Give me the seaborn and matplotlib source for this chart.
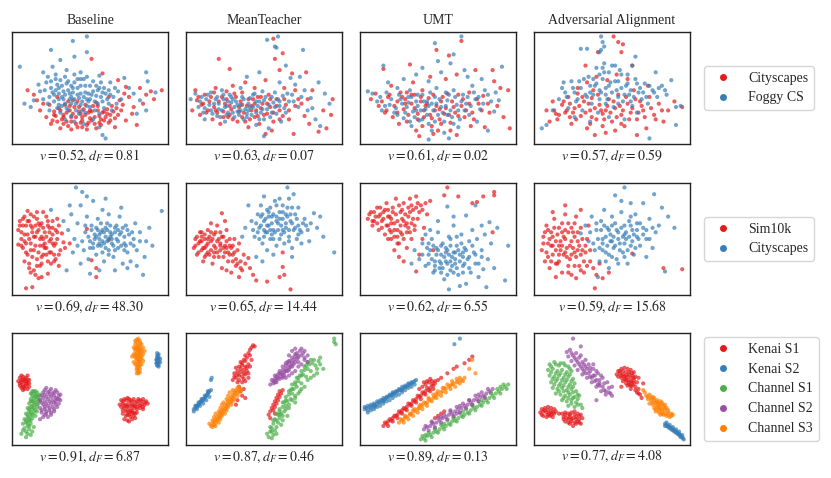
import numpy as np
import pandas as pd
import seaborn as sns
import matplotlib.pyplot as plt

# panel coordinates on a 0-100 box (x right, y up)

# ---- row 1 : Cityscapes -> Foggy CS
b1_red = [96,48, 89,47, 82,50, 73,51, 75,42, 69,39, 78,33, 84,36, 73,21, 80,17, 66,15, 63,26,
          10,48, 16,39, 18,30, 22,24, 25,18, 31,14, 38,13, 45,15, 51,21, 51,76, 58,63, 68,57,
          28,25, 32,22, 35,28, 38,20, 41,24, 44,19, 47,26, 50,23, 53,18, 56,25, 59,21, 62,19,
          30,32, 34,35, 37,30, 40,33, 43,29, 46,31, 49,28, 52,34, 55,30, 58,28, 61,31, 64,34,
          24,35, 27,29, 33,18, 36,16, 42,15, 48,13, 54,14, 57,17, 60,24, 26,21, 20,36, 66,23,
          70,30, 72,45, 39,39, 45,24, 33,26, 86,44, 91,40, 77,27, 29,42, 14,44, 62,42, 67,32,
          27,26, 29,20, 31,30, 33,24, 35,20, 37,34, 39,27, 41,18, 43,33, 45,21, 47,35, 49,19,
          51,29, 53,24, 55,34, 57,22, 59,29, 61,27, 63,21, 65,29, 68,26, 71,35, 38,24, 44,27,
          50,30, 56,19, 42,38, 36,38, 48,17, 54,37]
b1_blue = [48,96, 39,92, 25,84, 48,82, 40,78, 31,75, 5,69, 20,64, 26,69, 35,66, 44,64, 56,61,
           86,64, 87,56, 63,55, 72,59, 78,45, 82,39, 86,30, 80,27, 67,36, 58,8, 60,5, 56,15,
           8,36, 12,33, 14,39, 22,55, 25,50, 28,58, 30,45, 32,52, 34,60, 36,48, 38,42, 40,55,
           42,50, 44,45, 46,58, 48,40, 50,52, 52,47, 54,43, 56,50, 58,38, 60,45, 62,48, 24,42,
           27,38, 30,35, 33,40, 35,32, 38,36, 41,30, 44,35, 47,28, 50,33, 53,30, 56,27, 59,32,
           62,36, 65,42, 68,47, 70,40, 36,56, 40,62, 28,62, 45,38, 49,45, 33,47, 26,46, 52,56,
           57,55, 43,27, 38,25, 31,28, 20,40, 18,47, 64,30, 40,20, 46,18, 52,22, 34,22, 29,53,
           37,45, 43,41, 55,36, 48,60, 31,57, 23,60, 39,50, 47,52, 75,50, 17,53, 92,46,
           21,48, 23,36, 25,56, 27,44, 29,32, 30,50, 32,42, 34,36, 35,54, 37,40, 39,46, 41,36,
           42,58, 44,52, 45,30, 47,46, 49,38, 51,44, 53,38, 55,48, 57,42, 59,50, 61,40, 63,44,
           66,50, 24,30, 28,48, 36,30, 42,44, 50,40, 58,46, 46,42, 34,44, 40,40, 32,34, 48,34,
           54,52, 38,52, 30,40, 44,58]
m1_red = [21,76, 28,67, 51,57, 68,63, 77,64, 94,40, 93,26, 85,11, 79,18, 69,9, 51,9, 62,81,
          57,76, 56,94, 6,48, 7,39, 9,26, 4,30, 60,66, 72,40, 88,30, 76,25, 66,22, 44,50,
          12,44, 15,38, 18,33, 20,28, 23,42, 25,36, 27,24, 29,31, 31,45, 33,20, 35,38, 37,28,
          39,34, 41,22, 43,40, 45,30, 47,18, 49,36, 52,27, 54,33, 56,20, 58,40, 60,30, 62,25,
          14,30, 17,22, 22,18, 26,47, 30,52, 36,46, 40,15, 46,25, 53,44, 64,35, 10,35, 24,29,
          34,33, 42,30, 48,42, 55,12, 70,48, 81,48, 90,14, 38,55, 63,50, 19,50,
          8,42, 11,36, 13,28, 16,42, 19,30, 21,38, 24,24, 26,40, 28,34, 30,22, 32,42, 34,29,
          36,35, 38,20, 40,40, 42,34, 44,24, 46,42, 48,32, 50,26, 52,36, 54,40, 56,28, 58,34,
          60,22, 63,40, 66,30, 70,34, 74,36, 78,40, 18,46, 28,26, 44,36, 36,24]
m1_blue = [52,93, 59,96, 57,87, 64,70, 75,84, 39,60, 47,64, 70,53, 85,55, 89,45, 81,32, 86,16,
           50,7, 6,45, 3,40, 8,33, 11,28, 13,40, 16,46, 18,36, 21,31, 22,24, 24,40, 26,34,
           28,44, 30,28, 32,38, 34,26, 36,42, 38,31, 40,36, 42,26, 44,45, 46,34, 48,28, 50,39,
           52,31, 54,24, 56,37, 58,27, 60,34, 62,43, 64,28, 66,38, 12,22, 16,30, 20,42, 25,20,
           29,37, 33,29, 37,22, 41,41, 45,17, 49,47, 53,14, 57,46, 61,20, 68,44, 72,33, 76,48,
           80,41, 92,36, 23,48, 35,50, 43,33, 27,28, 47,38, 31,33, 39,27, 55,42, 60,55, 67,59,
           73,60, 78,30, 83,22, 58,86,
           9,38, 12,32, 14,44, 17,27, 19,40, 21,36, 23,30, 24,44, 26,26, 27,38, 29,42, 31,24,
           33,35, 35,30, 37,40, 39,24, 41,33, 43,44, 45,38, 47,22, 49,31, 51,42, 53,35, 55,28,
           57,33, 59,40, 63,32, 65,45, 69,38, 74,42, 15,35, 25,33, 35,35, 45,28, 30,40, 40,30,
           20,25, 50,22, 60,38, 10,42]
u1_red = [65,92, 49,84, 57,79, 32,71, 15,67, 85,66, 74,66, 95,48, 96,14, 7,40, 80,15, 62,8,
          38,7, 12,34, 16,28, 18,42, 21,24, 24,38, 26,46, 28,31, 30,20, 33,36, 35,44, 37,27,
          40,16, 42,34, 44,41, 46,23, 48,30, 50,12, 52,38, 54,27, 56,45, 58,19, 60,33, 63,25,
          66,40, 68,30, 70,46, 73,22, 76,36, 79,43, 83,28, 88,34, 90,50, 20,52, 34,55, 45,60,
          55,58, 62,62, 25,18, 36,12, 47,9, 58,12, 71,16, 10,45, 29,40, 41,24, 51,31, 39,38,
          86,56, 92,24,
          14,38, 17,30, 19,44, 22,34, 24,28, 27,42, 29,36, 31,26, 33,44, 35,32, 37,22, 39,42,
          41,30, 43,36, 45,26, 47,44, 49,34, 51,22, 53,42, 55,32, 57,26, 59,38, 61,28, 63,44,
          65,34, 67,24, 70,36, 72,28, 75,40, 78,30, 82,36, 46,16, 52,18, 30,46, 40,48]
u1_blue = [65,96, 48,90, 60,80, 15,70, 91,69, 67,66, 89,39, 5,47, 86,29, 57,5, 44,4, 8,45,
           11,38, 14,30, 17,46, 19,35, 22,28, 24,50, 26,40, 28,23, 30,33, 32,48, 34,29, 36,38,
           38,21, 40,44, 42,31, 44,18, 46,36, 48,42, 50,26, 52,33, 54,20, 56,39, 58,30, 60,48,
           62,35, 64,22, 66,44, 68,36, 70,26, 72,52, 74,40, 77,31, 80,48, 84,38, 87,46, 28,58,
           36,62, 44,56, 52,64, 58,72, 50,74, 40,68, 18,55, 33,16, 46,12, 54,10, 63,15, 75,20,
           82,12, 31,42, 43,38, 49,50, 37,34, 55,46, 69,60, 78,58,
           13,42, 16,34, 20,40, 23,32, 25,44, 27,36, 29,28, 31,37, 33,42, 35,24, 37,44, 39,30,
           41,38, 43,26, 45,46, 47,30, 49,36, 51,40, 53,28, 55,34, 57,44, 59,24, 61,42, 63,30,
           65,38, 67,30, 69,42, 71,34, 73,46, 76,42, 79,36, 82,44, 40,22, 48,20, 56,26, 32,20,
           24,26, 60,18, 36,30, 44,34]
a1_red = [51,96, 54,91, 57,89, 56,82, 41,82, 33,70, 14,27, 95,33, 63,70, 10,20, 8,30, 12,38,
          15,22, 18,35, 20,28, 22,42, 24,18, 26,32, 28,45, 30,25, 32,38, 34,14, 36,30, 38,48,
          40,22, 42,35, 44,27, 46,10, 48,40, 50,20, 52,32, 54,44, 56,26, 58,16, 60,36, 62,28,
          64,48, 66,22, 68,38, 70,30, 72,14, 74,42, 77,26, 80,36, 83,20, 86,30, 90,38, 34,55,
          40,60, 47,57, 53,62, 60,58, 28,50, 44,16, 39,8, 52,12, 66,8, 73,52, 23,24, 37,41,
          13,30, 16,26, 19,38, 21,30, 23,36, 25,28, 27,22, 29,34, 31,42, 33,28, 35,36, 37,24,
          39,32, 41,44, 43,30, 45,22, 47,34, 49,28, 51,38, 53,24, 55,34, 57,30, 59,42, 61,22,
          63,32, 65,40, 67,28, 69,34, 71,24, 75,32, 78,22, 82,30, 46,30, 36,18, 56,18]
a1_blue = [43,96, 44,91, 45,87, 43,84, 42,82, 30,85, 34,85, 65,78, 63,70, 78,64, 88,57, 91,33,
           91,17, 74,5, 5,14, 8,17, 19,55, 16,40, 20,46, 22,32, 25,50, 27,38, 29,56, 31,30,
           33,44, 35,60, 37,36, 39,52, 41,28, 43,46, 45,64, 47,40, 49,55, 51,33, 53,48, 55,66,
           57,38, 59,52, 61,44, 63,34, 65,58, 67,46, 69,40, 71,54, 73,36, 76,48, 79,42, 82,52,
           85,44, 94,34, 45,72, 50,70, 40,68, 36,20, 48,24, 58,22, 66,28, 12,30, 26,24, 54,56,
           38,58, 46,50, 42,40, 60,62,
           18,50, 21,42, 24,56, 26,46, 28,40, 30,50, 32,58, 34,42, 36,52, 38,44, 40,54, 42,48,
           44,58, 46,44, 48,52, 50,46, 52,56, 54,42, 56,50, 58,44, 60,54, 62,48, 64,42, 66,54,
           68,50, 70,46, 72,42, 74,52, 77,46, 80,50, 84,48, 44,68, 48,64, 52,70, 42,62, 56,62,
           36,46, 46,36, 54,36, 62,38]

# ---- row 2 : Sim10k -> Cityscapes
b2_red = [9,6, 13,7, 17,15, 19,16, 23,19, 33,47, 37,46, 48,59, 54,24, 54,16, 62,49, 51,31,
          4,58, 5,66, 6,50, 7,42, 8,70, 9,62, 10,36, 10,54, 11,28, 12,46, 12,72, 13,60,
          14,40, 14,22, 15,52, 16,68, 16,32, 17,58, 18,44, 18,26, 19,64, 20,50, 20,36, 21,56,
          22,42, 22,70, 23,30, 24,48, 24,60, 25,38, 26,54, 26,66, 27,44, 28,58, 28,32, 29,50,
          30,62, 31,40, 6,56, 9,46, 11,66, 13,34, 15,62, 17,38, 19,52, 21,46, 23,62, 25,28,
          8,30, 7,62, 29,68, 30,26, 27,36, 12,20, 16,74, 20,74, 10,75, 4,45, 32,55, 34,42,
          5,62, 6,44, 7,68, 8,54, 9,38, 10,66, 11,50, 12,40, 13,56, 14,70, 15,44, 16,26,
          17,64, 18,50, 19,34, 20,60, 21,42, 22,52, 23,66, 24,38, 25,50, 26,60, 27,30, 28,46,
          29,56, 30,36, 12,62, 16,56, 20,44, 24,56, 8,48, 14,52, 18,62, 22,36, 26,46, 11,24,
          15,18, 19,28]
b2_blue = [41,96, 45,92, 96,75, 25,76, 84,18, 90,44, 35,22, 50,19, 33,66, 36,58, 38,72, 40,50,
           42,64, 44,80, 46,40, 47,56, 48,70, 49,32, 50,48, 51,62, 52,42, 53,54, 54,36, 55,68,
           56,50, 57,44, 58,58, 59,30, 60,52, 61,64, 62,40, 63,56, 64,46, 65,34, 66,60, 67,50,
           68,42, 69,70, 70,56, 71,28, 72,46, 73,62, 74,38, 75,54, 76,30, 78,50, 79,64, 80,40,
           82,56, 85,34, 88,60, 44,28, 39,38, 37,80, 52,84, 58,76, 62,72, 70,78, 74,24, 80,26,
           56,22, 66,22, 60,86, 48,88, 53,50, 57,56, 59,46, 55,58, 61,48, 63,52, 42,44, 86,48,
           45,48, 47,62, 49,52, 51,58, 52,46, 54,60, 55,44, 56,54, 57,64, 58,48, 59,56, 60,42,
           61,58, 62,50, 63,62, 64,54, 65,44, 66,56, 67,62, 68,48, 69,54, 70,44, 71,60, 72,52,
           73,44, 74,58, 76,46, 77,56, 58,38, 62,36, 66,40, 54,52, 60,60, 64,50, 68,58, 56,46,
           50,42, 72,40, 78,44, 82,48]
m2_red = [23,73, 40,33, 43,18, 45,13, 52,12, 60,16, 63,18, 62,25, 67,5, 62,38,
          5,42, 6,50, 7,36, 8,46, 9,56, 10,40, 11,30, 12,50, 13,44, 14,58, 15,36, 16,48,
          17,28, 18,54, 19,42, 20,62, 21,34, 22,46, 23,24, 24,52, 25,38, 26,58, 27,30, 28,44,
          29,20, 30,36, 31,50, 32,26, 33,40, 34,16, 35,30, 36,22, 38,28, 20,48, 14,38, 24,42,
          18,34, 22,56, 28,50, 12,34, 30,44, 26,22, 10,48, 16,64, 25,66, 37,36, 34,46, 41,24,
          6,44, 7,52, 8,38, 9,48, 10,56, 11,42, 12,54, 13,36, 14,46, 15,52, 16,40, 17,50,
          18,44, 19,56, 20,38, 21,50, 22,40, 23,52, 24,34, 25,44, 26,48, 27,38, 28,36, 29,42,
          30,30, 31,38, 32,32, 33,28, 35,24, 10,52, 14,50, 18,38, 22,44, 26,42, 16,56, 12,42]
m2_blue = [65,96, 69,90, 95,38, 40,80, 79,48, 82,73, 49,30, 45,34, 38,60, 42,66, 44,52, 46,72,
           47,60, 48,80, 49,46, 50,66, 51,56, 52,76, 53,62, 54,50, 55,70, 56,58, 57,84, 58,44,
           59,64, 60,74, 61,54, 62,68, 63,46, 64,60, 65,78, 66,52, 67,66, 68,42, 69,58, 70,72,
           71,50, 72,62, 74,56, 76,68, 78,58, 80,64, 84,60, 86,70, 52,40, 56,36, 60,86, 66,86,
           72,78, 36,52, 88,52, 50,88, 55,54, 58,70, 62,58, 64,72, 52,56, 48,70, 74,46, 68,34,
           43,58, 45,64, 46,56, 48,62, 49,72, 50,58, 51,68, 52,62, 53,70, 54,58, 55,64, 56,72,
           57,56, 58,66, 59,58, 60,68, 61,62, 62,74, 63,56, 64,64, 65,70, 66,58, 67,72, 68,64,
           70,60, 71,68, 73,58, 75,64, 77,62, 54,78, 58,80, 62,80, 50,52, 56,50, 60,50, 66,48,
           72,54, 47,50, 53,74, 68,78]
u2_red = [56,96, 54,89, 63,88, 79,88, 86,92, 86,89, 72,82, 75,83, 85,56, 36,21, 47,40,
          5,68, 7,74, 8,62, 10,70, 11,78, 12,58, 14,66, 15,74, 16,54, 17,82, 18,62, 19,70,
          20,50, 21,78, 22,58, 23,86, 24,66, 25,46, 26,74, 27,54, 28,82, 29,62, 30,42, 31,70,
          32,86, 33,50, 34,76, 35,58, 36,88, 37,68, 38,36, 39,80, 41,60, 43,72, 45,84, 22,40,
          25,34, 28,30, 30,56, 20,64, 13,72, 9,66, 33,64, 40,50, 27,68, 18,76, 24,52, 31,78,
          6,72, 8,66, 9,74, 11,64, 12,70, 13,78, 14,60, 15,68, 16,76, 17,62, 18,70, 19,58,
          20,68, 21,74, 22,64, 23,72, 24,58, 25,80, 26,62, 27,76, 28,66, 29,72, 30,64, 31,60,
          32,74, 33,80, 34,68, 35,62, 36,78, 37,82, 38,74, 40,76, 42,82, 24,46, 22,52, 28,50,
          26,56, 32,56, 20,56, 18,50]
u2_blue = [95,44, 93,13, 57,5, 81,7, 79,23, 83,65, 78,62, 68,71, 56,79, 74,80,
           35,40, 38,32, 40,46, 42,26, 44,36, 46,50, 47,20, 48,30, 49,42, 50,56, 51,24, 52,36,
           53,46, 54,14, 55,30, 56,40, 57,52, 58,22, 59,34, 60,62, 61,28, 62,44, 63,18, 64,36,
           65,54, 66,26, 67,42, 68,10, 69,32, 70,48, 71,20, 72,58, 73,38, 74,28, 75,50, 76,16,
           78,40, 80,54, 82,32, 84,46, 86,24, 88,60, 45,58, 50,66, 42,54, 33,28, 60,70, 64,8,
           55,38, 58,30, 61,38, 52,28, 66,34, 70,24,
           40,36, 43,42, 44,28, 45,40, 46,32, 47,44, 48,26, 49,36, 50,40, 51,30, 52,44, 53,24,
           54,34, 55,42, 56,28, 57,36, 58,44, 59,26, 60,38, 61,32, 62,24, 63,40, 64,30, 65,46,
           66,38, 67,28, 68,40, 70,34, 72,44, 74,36, 76,28, 78,34, 52,20, 56,18, 60,20, 48,22,
           66,20, 44,46, 58,50, 62,52]
a2_red = [83,24, 95,23, 39,6, 27,15, 44,15, 63,37, 5,40, 6,52, 7,30, 8,62, 9,46, 10,24,
          11,56, 12,36, 13,68, 14,48, 15,28, 16,60, 17,40, 18,20, 19,52, 20,72, 21,34, 22,64,
          23,44, 24,18, 25,56, 26,38, 27,70, 28,48, 29,26, 30,60, 31,40, 32,20, 34,50, 36,30,
          38,24, 40,18, 35,62, 30,76, 20,80, 12,74, 9,34, 14,16, 22,26, 26,52, 18,44, 16,36,
          24,36, 33,44, 42,28, 48,20, 11,44, 20,58,
          6,46, 7,56, 8,38, 9,58, 10,50, 11,30, 12,44, 13,60, 14,40, 15,54, 16,30, 17,48,
          18,64, 19,36, 20,50, 21,42, 22,56, 23,32, 24,48, 25,42, 26,64, 27,34, 28,56, 29,44,
          30,36, 31,50, 32,30, 33,38, 34,26, 36,40, 12,52, 16,44, 20,38, 24,60, 28,40, 18,56,
          14,28, 22,20, 30,22, 26,26]
a2_blue = [58,96, 52,89, 77,90, 70,82, 82,78, 84,21, 41,16, 30,55, 33,62, 35,48, 37,70, 39,40,
           40,58, 42,30, 43,66, 44,50, 45,76, 46,38, 47,60, 48,24, 49,54, 50,70, 51,42, 52,64,
           53,32, 54,56, 55,46, 56,74, 57,38, 58,62, 59,50, 60,28, 61,66, 62,44, 63,58, 64,36,
           65,72, 66,52, 68,44, 70,60, 72,50, 74,68, 76,42, 78,56, 80,62, 62,82, 56,84, 48,36,
           44,40, 50,48, 58,54, 66,64, 72,34, 86,70, 90,60,
           36,56, 38,46, 40,64, 41,50, 42,42, 43,58, 44,46, 45,62, 46,52, 47,44, 48,58, 49,48,
           50,62, 51,52, 52,44, 53,58, 54,50, 55,40, 56,60, 57,52, 58,46, 59,56, 60,40, 61,52,
           62,62, 63,48, 64,54, 65,42, 66,58, 67,50, 68,64, 70,54, 72,58, 74,50, 76,60, 50,34,
           54,28, 46,30, 58,34, 62,70]

# ---- row 3 : Kenai / Channel
b3_red = [5,60, 7,61, 9,60, 11,58, 4,57, 6,56, 8,57, 10,55, 5,53, 7,52, 9,53, 11,52, 8,50, 6,62,
          10,62, 7,49, 6,58, 8,59, 10,58, 5,55, 7,54, 9,55, 11,55, 6,51, 8,52, 10,50, 7,58, 9,57,
          70,40, 72,41, 74,42, 76,40, 78,41, 80,39, 82,40, 84,41, 86,39, 71,37, 73,36, 75,38, 77,36,
          79,35, 81,37, 83,36, 85,36, 70,34, 72,33, 74,34, 76,32, 78,33, 80,32, 82,33, 84,34, 73,30,
          75,29, 77,30, 79,28, 74,27, 76,25, 78,26, 72,23, 75,21, 79,24, 71,28, 69,36, 87,37,
          71,39, 73,40, 75,41, 77,39, 79,38, 81,41, 83,39, 85,38, 72,35, 74,35, 76,35, 78,35,
          80,34, 82,35, 84,32, 71,31, 74,31, 76,30, 78,29, 80,29, 75,27, 77,28, 73,26, 77,23, 74,22]
b3_blue = [93,82, 94,81, 93,79, 94,78, 93,77, 94,76, 93,75, 94,74, 93,73, 94,72, 93,71, 94,70,
           92.5,76, 95,77, 95,74, 92.5,73, 93.5,80, 93.5,77, 93.5,74, 93.5,71]
b3_green = [14,48, 16,47, 12,46, 15,45, 17,44, 13,44, 14,42, 16,41, 12,41, 18,40, 13,39, 15,38, 17,37,
            11,37, 14,36, 16,34, 12,34, 10,33, 13,32, 15,31, 11,30, 14,29, 9,28, 12,27, 10,25, 13,24,
            8,23, 11,22, 9,20, 12,19, 10,17, 8,15, 11,14, 6,10, 9,7, 13,12, 14,16, 16,30, 18,45, 17,39,
            7,19, 15,26, 13,46, 15,43, 12,39, 17,42, 14,39, 13,35, 16,36, 11,32, 14,33, 12,29, 10,27,
            13,27, 11,24, 9,22, 12,22, 10,20, 11,17, 9,12, 7,13, 12,9, 10,10, 16,44, 15,48, 13,48]
b3_purple = [22,51, 25,50, 28,49, 20,47, 23,47, 26,46, 29,47, 31,45, 19,44, 22,43, 25,43, 28,42, 30,41,
             18,40, 21,39, 24,39, 27,38, 30,37, 20,36, 23,35, 26,34, 29,34, 18,33, 21,32, 24,31, 27,30,
             19,29, 22,28, 25,27, 20,25, 18,23, 31,40, 21,49, 24,48, 27,47, 30,44, 21,45, 24,45, 27,44,
             29,41, 20,42, 23,41, 26,40, 28,39, 19,38, 22,37, 25,37, 28,36, 21,34, 24,33, 27,32, 19,31,
             22,30, 25,29, 21,27, 23,25]
b3_orange = [81,95, 80,92, 82,93, 79,90, 81,89, 83,90, 78,87, 80,86, 82,86, 84,87, 79,84, 81,83, 83,83,
             78,81, 80,80, 82,80, 84,81, 79,78, 81,77, 83,77, 80,75, 82,74, 78,74, 84,75, 79,72, 81,71,
             83,72, 80,69, 82,68, 81,66, 80,64, 82,65, 77,79, 85,84, 79,93, 80,94, 82,91, 80,88, 82,88,
             79,86, 81,85, 83,85, 80,82, 82,82, 79,80, 81,79, 83,79, 80,77, 82,76, 81,74, 80,72, 82,71,
             81,69, 80,67, 81,64]
m3_red = [30,58, 32,60, 34,62, 36,61, 38,63, 31,64, 33,66, 35,65, 37,67, 39,66, 32,69, 34,70, 36,71,
          38,70, 40,72, 35,74, 37,76, 39,78, 38,80, 40,82, 41,85, 42,87, 43,89, 44,88, 36,56, 38,57,
          40,60, 34,52, 35,48, 37,50, 36,44, 33,40, 38,42, 32,36, 42,76, 41,80, 31,61, 33,63, 35,68,
          37,64, 39,69, 41,70, 36,73, 38,75, 34,58, 40,64, 33,56, 37,59,
          54,30, 55,33, 56,36, 57,39, 58,42, 59,45, 60,48, 56,31, 57,34, 58,37, 59,40, 60,43, 61,46,
          62,49, 53,27, 54,24, 57,28]
m3_blue = [5,32, 6,33, 6.5,35, 7,34, 8,36, 8.5,37, 9,38, 10,39, 10.5,41, 11,40, 12,42, 12.5,43, 13,44,
           14,46, 14.5,47, 15,48, 7.5,35, 9.5,39, 11.5,41, 13.5,45, 16,58, 16.5,60, 5,30, 7,32, 9,35,
           11,37, 13,40, 15,43, 6,35, 8,38, 10,41, 12,44, 14,48, 16,49]
m3_green = [53,7, 55,6, 56,9, 54,12, 57,13, 55,15, 58,16, 56,19, 59,20, 57,23, 60,24, 62,22, 59,27,
            61,28, 63,30, 60,32, 62,34, 64,35, 66,33, 63,38, 65,39, 67,41, 64,43, 66,45, 68,46, 70,44,
            67,49, 69,50, 71,52, 68,54, 70,56, 72,57, 74,55, 71,60, 73,62, 75,63, 77,61, 74,66, 76,67,
            78,68, 80,66, 77,71, 79,72, 81,73, 83,71, 82,76, 85,75, 86,78, 88,68, 84,64, 95,95, 95,92,
            96,90, 58,10, 61,18, 65,26, 70,38, 73,48, 52,10, 54,16, 56,22, 58,28, 60,30, 62,38, 64,40,
            66,48, 68,50, 70,54, 72,60, 74,62, 76,70, 78,74, 80,76, 58,22, 60,27, 64,32, 66,36, 68,40,
            70,42, 72,46, 74,50, 76,52, 78,58, 80,60, 82,62, 84,68, 86,72, 62,26, 55,12]
m3_purple = [54,54, 56,55, 58,56, 55,58, 57,59, 59,60, 61,61, 57,62, 59,63, 61,64, 63,65, 60,66, 62,67,
             64,68, 66,69, 62,70, 64,71, 66,72, 68,73, 65,74, 67,75, 69,76, 71,77, 68,78, 70,79, 72,80,
             71,82, 73,84, 74,86, 63,62, 65,66, 67,70, 69,72, 72,74, 58,58, 75,82, 76,78, 56,57, 60,59,
             62,63, 64,66, 66,67, 68,70, 70,74, 60,64, 58,61, 66,75, 70,81, 72,78, 64,73, 62,60, 57,56,
             66,80, 68,84, 70,86, 74,80, 76,76, 78,74, 72,70, 74,72, 70,66, 68,64, 76,84, 78,80, 66,62,
             64,60]
m3_orange = [16,17, 17,19, 18,18, 18,21, 19,23, 20,22, 20,25, 21,27, 22,26, 22,29, 23,31, 24,30, 24,33,
             25,35, 26,34, 26,37, 27,39, 28,38, 28,41, 29,43, 30,42, 30,45, 31,47, 32,46, 32,49, 33,51,
             34,52, 19,20, 21,24, 23,28, 25,32, 27,36, 29,40, 31,44, 33,48, 35,50, 17,16, 15,19, 17,22,
             18,25, 19,28, 21,30, 22,33, 23,36, 24,38, 26,41, 27,44, 28,47, 30,49, 19,17, 21,20, 22,23,
             23,26, 25,28, 26,31, 27,34, 29,36, 30,39, 31,41, 33,44, 34,47, 35,49]
u3_red = [15,17, 17,19, 18,21, 20,22, 21,24, 23,26, 24,27, 26,29, 27,31, 29,32, 30,34, 32,36, 33,37,
          35,39, 36,41, 38,43, 39,44, 41,46, 42,48, 44,49, 45,51, 47,53, 48,55, 40,52, 42,54, 44,56,
          46,57, 41,56, 45,59, 50,58, 52,60, 56,64, 60,68, 67,73, 72,79, 70,76, 62,70, 50,26, 52,28,
          48,24, 54,30, 16,20, 19,23, 22,26, 25,30, 28,33, 31,37, 34,40, 37,44, 40,47, 43,51, 46,54,
          18,17, 21,21, 24,24, 27,28, 30,31, 33,35, 36,38, 39,41, 42,45, 45,48, 47,50, 38,50, 43,57,
          48,57]
u3_blue = [3,32, 4,33, 5,31, 6,34, 7,33, 8,35, 9,36, 10,35, 11,37, 12,38, 13,38, 14,40, 15,40, 16,41,
           17,42, 18,43, 19,44, 20,44, 21,46, 22,46, 23,47, 24,48, 25,49, 26,49, 27,50, 28,51, 29,52,
           30,52, 31,54, 32,54, 33,55, 34,56, 35,57, 36,58, 9,34, 15,39, 21,45, 27,49, 60.5,90, 64,95,
           3,34, 5,35, 7,36, 9,37, 11,39, 13,40, 15,42, 17,43, 19,45, 21,47, 23,48, 25,50, 27,52,
           29,53, 31,55, 33,56, 5,29, 7,31, 9,32, 11,34, 13,35, 15,37, 17,39, 19,40, 21,42, 23,44,
           25,45, 27,47, 29,49, 31,51, 33,52, 35,54]
u3_green = [39,5, 41,6, 43,8, 45,9, 47,11, 49,12, 51,14, 53,16, 55,17, 57,19, 59,21, 61,22, 63,24,
            65,26, 67,27, 69,29, 71,31, 73,33, 75,34, 77,36, 79,38, 81,40, 83,42, 85,44, 87,46, 89,48,
            91,50, 93,52, 95,54, 42,9, 48,14, 54,19, 60,24, 66,30, 72,35, 78,40, 84,46, 90,52,
            40,8, 44,11, 48,15, 52,18, 56,22, 60,25, 64,29, 68,32, 72,36, 76,39, 80,43, 84,47, 88,50,
            92,54, 42,4, 46,7, 50,11, 54,14, 58,18, 62,21, 66,25, 70,28, 74,31, 78,35, 82,38, 86,42,
            90,46, 94,50]
u3_purple = [41,14, 43,16, 45,17, 47,19, 49,20, 51,22, 53,24, 55,25, 57,27, 59,28, 61,30, 63,32, 65,33,
             67,35, 69,36, 71,38, 73,40, 75,41, 77,43, 79,44, 81,46, 83,48, 85,50, 46,20, 52,25, 58,30,
             64,35, 70,40, 76,45, 62,28, 42,17, 46,21, 50,24, 54,27, 58,31, 62,34, 66,37, 70,40, 74,44,
             78,47, 82,50, 44,13, 48,16, 52,20, 56,23, 60,26, 64,29, 68,33, 72,36, 76,39, 80,42]
u3_orange = [25,20, 27,22, 28,23, 30,25, 32,27, 33,28, 35,30, 37,32, 38,33, 40,35, 42,37, 43,38, 45,40,
             47,42, 48,43, 50,45, 52,47, 53,48, 55,50, 57,52, 58,53, 60,55, 62,56, 63,57, 65,58, 67,60,
             29,26, 34,31, 39,36, 44,41, 49,46, 54,51, 59,54, 64,60, 72,76, 74,64, 70,68, 26,23, 29,25,
             32,28, 35,32, 38,35, 41,38, 44,42, 47,45, 50,48, 53,51, 56,54, 59,57, 62,59, 28,20, 31,23,
             34,26, 37,29, 40,32, 43,35, 46,39, 49,42, 52,44, 55,47, 58,50, 61,52, 64,55, 66,57]
a3_red = [5,32, 7,33, 9,34, 11,33, 13,32, 4,29, 6,30, 8,29, 10,28, 12,29, 14,30, 6,26, 8,25, 10,26,
          12,25, 16,28, 7,31, 9,31, 11,30, 13,28, 5,27, 9,27, 11,27,
          18,28, 20,29, 22,28, 24,29, 26,30, 28,28, 30,27, 19,25, 21,24, 23,25, 25,24, 27,25, 29,23,
          31,24, 20,21, 22,20, 24,21, 26,20, 28,21, 30,19, 25,17, 20,27, 23,27, 26,27, 29,26, 19,23,
          22,23, 24,23, 27,23, 29,20, 23,19, 27,19,
          54,66, 56,68, 58,69, 60,68, 62,67, 64,65, 53,63, 55,64, 57,63, 59,62, 61,63, 63,62, 65,61,
          56,60, 58,59, 60,58, 62,57, 64,58, 66,56, 59,55, 61,54, 63,53, 65,52, 67,50, 66,47, 68,45,
          69,42, 62,50, 56,52, 70,55, 67,60, 55,66, 57,66, 59,65, 61,65, 63,64, 54,61, 56,62, 58,61,
          60,61, 62,60, 64,60, 57,57, 59,58, 61,56, 63,56, 60,53, 62,53, 64,55, 65,49, 67,46]
a3_blue = [84,19, 85,18, 86,17, 87,16, 88,15, 89,14, 90,13, 91,12, 92,11, 93,10, 93.5,9, 94,8, 95,7,
           95.5,6, 96,5, 85,17, 87,15, 89,13, 91,11, 93,9, 84,17, 86,16, 88,14, 90,12, 92,10, 94,7,
           85,20, 87,18, 89,16, 91,14, 93,12, 95,9]
a3_green = [10,72, 13,74, 16,71, 19,73, 22,70, 9,67, 12,68, 15,66, 18,67, 21,65, 24,66, 10,62, 13,61,
            16,62, 19,60, 22,61, 25,59, 11,56, 14,57, 17,55, 20,56, 23,54, 26,55, 12,51, 15,50, 18,51,
            21,49, 24,50, 27,48, 14,46, 17,45, 20,44, 23,45, 26,43, 29,44, 18,40, 21,39, 24,40, 27,38,
            22,35, 26,34, 30,36, 31,33, 28,41, 11,70, 14,72, 17,73, 20,71, 23,68, 11,65, 14,64, 17,64,
            20,63, 23,63, 12,59, 15,59, 18,58, 21,58, 24,57, 13,54, 16,53, 19,53, 22,52, 25,52, 16,48,
            19,48, 22,47, 25,47, 19,42, 22,42, 25,42, 28,45, 24,37, 28,36]
a3_purple = [21,83, 23,85, 22,79, 25,80, 27,82, 24,75, 27,76, 29,78, 26,71, 29,72, 31,74, 33,76, 28,67,
             31,68, 33,70, 35,72, 31,63, 33,64, 36,66, 38,68, 34,60, 36,61, 39,62, 41,64, 37,56, 39,57,
             42,58, 44,60, 40,52, 42,53, 45,55, 47,56, 43,48, 45,49, 48,51, 50,52, 46,45, 49,46, 50,44,
             38,72, 25,95, 30,88, 40,40, 24,82, 26,78, 28,74, 30,70, 32,66, 35,64, 37,60, 40,58, 42,55,
             44,52, 46,48, 48,47, 30,80, 32,72, 34,68, 36,69, 40,66, 38,62, 43,62, 41,54]
a3_orange = [72,44, 74,45, 76,43, 73,41, 75,40, 77,42, 79,40, 74,37, 76,36, 78,38, 80,37, 82,38, 77,33,
             79,34, 81,33, 83,35, 85,33, 78,30, 80,31, 82,30, 84,31, 86,29, 88,28, 81,27, 83,27, 85,26,
             87,25, 89,27, 71,47, 70,49, 73,43, 75,42, 77,40, 76,38, 78,36, 80,35, 82,36, 84,36, 78,32,
             80,33, 82,32, 84,33, 86,31, 80,29, 82,28, 84,28, 86,27, 88,26, 79,38, 81,39]

titles = ['Baseline', 'MeanTeacher', 'UMT', 'Adversarial Alignment']
row_domains = [['Cityscapes', 'Foggy CS'],
               ['Sim10k', 'Cityscapes'],
               ['Kenai S1', 'Kenai S2', 'Channel S1', 'Channel S2', 'Channel S3']]
row_data = [[[b1_red, b1_blue], [m1_red, m1_blue], [u1_red, u1_blue], [a1_red, a1_blue]],
            [[b2_red, b2_blue], [m2_red, m2_blue], [u2_red, u2_blue], [a2_red, a2_blue]],
            [[b3_red, b3_blue, b3_green, b3_purple, b3_orange],
             [m3_red, m3_blue, m3_green, m3_purple, m3_orange],
             [u3_red, u3_blue, u3_green, u3_purple, u3_orange],
             [a3_red, a3_blue, a3_green, a3_purple, a3_orange]]]
v_vals = [['0.52', '0.63', '0.61', '0.57'],
          ['0.69', '0.65', '0.62', '0.59'],
          ['0.91', '0.87', '0.89', '0.77']]
dF_vals = [['0.81', '0.07', '0.02', '0.59'],
           ['48.30', '14.44', '6.55', '15.68'],
           ['6.87', '0.46', '0.13', '4.08']]

sns.set_style('white')
plt.rcParams['font.family'] = ['Liberation Serif', 'DejaVu Serif']
plt.rcParams['mathtext.fontset'] = 'stix'
colors = sns.color_palette('Set1', 5)

W, H = 831, 478
fig = plt.figure(figsize=(W / 100, H / 100), dpi=100)

row_tops = [32, 183, 333]
for r in range(3):
    doms = row_domains[r]
    for c in range(4):
        left = 12 + c * 174
        ax = fig.add_axes([left / W, 1 - (row_tops[r] + 112) / H, 156 / W, 112 / H])
        parts = []
        for name, pts in zip(doms, row_data[r][c]):
            a = np.array(pts, dtype=float).reshape(-1, 2)
            parts.append(pd.DataFrame({'x': a[:, 0], 'y': a[:, 1], 'domain': name}))
        df = pd.concat(parts, ignore_index=True)
        sns.scatterplot(data=df, x='x', y='y', hue='domain', hue_order=doms,
                        palette=colors[:len(doms)], s=9, alpha=0.7, linewidth=0,
                        ax=ax, legend=(c == 3))
        ax.set_xlim(0, 100)
        ax.set_ylim(0, 100)
        ax.set_xticks([])
        ax.set_yticks([])
        ax.set_ylabel('')
        ax.set_xlabel(r'$v=%s, d_F=%s$' % (v_vals[r][c], dF_vals[r][c]), fontsize=10, labelpad=3)
        for sp in ax.spines.values():
            sp.set_color('#222222')
            sp.set_linewidth(1.0)
        if r == 0:
            ax.set_title(titles[c], fontsize=10, pad=6)
        if c == 3:
            old = ax.get_legend()
            handles = old.legend_handles
            labels = [t.get_text() for t in old.get_texts()]
            leg = ax.legend(handles, labels, loc='center left', bbox_to_anchor=(1.09, 0.5),
                            borderaxespad=0, frameon=True, fontsize=10, edgecolor='0.8')
            for h in leg.legend_handles:
                h.set_alpha(1)
                h.set_markersize(5)

fig.savefig('out.png', dpi=100)
